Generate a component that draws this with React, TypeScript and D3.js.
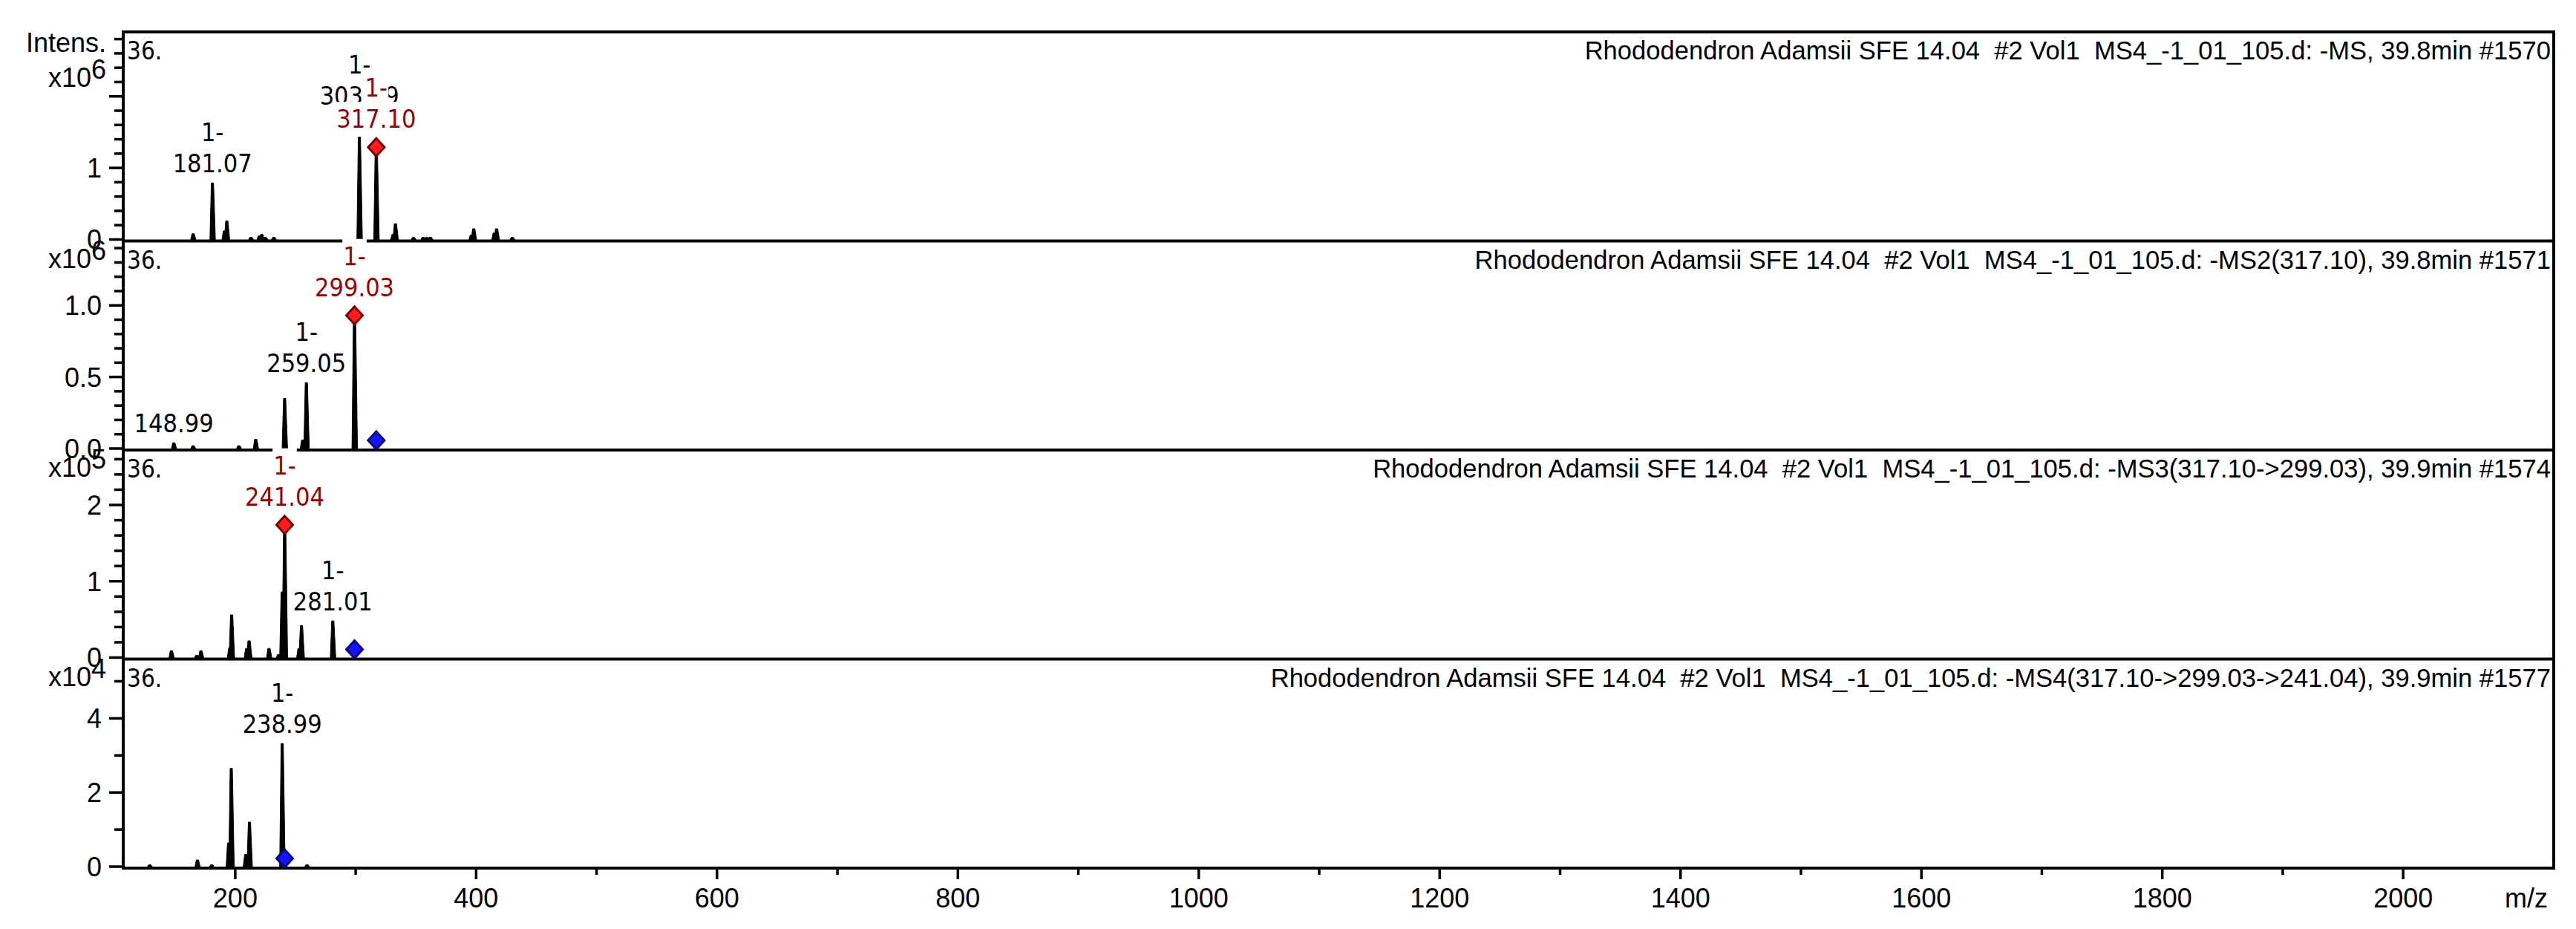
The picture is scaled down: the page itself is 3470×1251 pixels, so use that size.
import * as d3 from 'd3';

// m/z axis
const mzDomain = [107, 2125];
const xTickValues = [200, 400, 600, 800, 1000, 1200, 1400, 1600, 1800, 2000];
const xMinorValues = [300, 500, 700, 900, 1100, 1300, 1500, 1700, 1900];

const titles = [
  'Rhododendron Adamsii SFE 14.04  #2 Vol1  MS4_-1_01_105.d: -MS, 39.8min #1570',
  'Rhododendron Adamsii SFE 14.04  #2 Vol1  MS4_-1_01_105.d: -MS2(317.10), 39.8min #1571',
  'Rhododendron Adamsii SFE 14.04  #2 Vol1  MS4_-1_01_105.d: -MS3(317.10->299.03), 39.9min #1574',
  'Rhododendron Adamsii SFE 14.04  #2 Vol1  MS4_-1_01_105.d: -MS4(317.10->299.03->241.04), 39.9min #1577',
];

const exponents = ['6', '6', '5', '4'];
const yMaxes = [2.9, 1.45, 2.72, 5.6];
const yMajor = [[0, 1, 2], [0, 0.5, 1.0], [0, 1, 2], [0, 2, 4]];
const yLabels = [['0', '1', ''], ['0.0', '0.5', '1.0'], ['0', '1', '2'], ['0', '2', '4']];
const yMinorStep = [0.2, 0.1, 0.2, 1];

// [m/z, intensity in units of 10^exponent]
const ms1Peaks = [
  [165, 0.08], [181.07, 0.79], [191, 0.12], [193, 0.26], [213, 0.03], [220, 0.05], [222, 0.07],
  [225, 0.03], [232, 0.03], [303.09, 1.43], [317.10, 1.29], [331, 0.07], [333, 0.22], [348, 0.03],
  [356, 0.03], [359, 0.03], [362, 0.03], [396, 0.06], [398, 0.15], [415, 0.09], [417, 0.15], [430, 0.03],
];
const ms2Peaks = [
  [148.99, 0.04], [165, 0.02], [203, 0.02], [217, 0.065], [241.0, 0.35], [256, 0.06], [259.05, 0.46], [299.03, 0.93],
];
const ms3Peaks = [
  [147, 0.09], [168, 0.03], [171.5, 0.09], [195.5, 0.13], [197, 0.56], [209.5, 0.12], [211.5, 0.22],
  [228, 0.12], [236, 0.04], [238.99, 0.86], [241.04, 1.74], [253, 0.12], [255, 0.42], [281.01, 0.48],
];
const ms4Peaks = [
  [129, 0.05], [168.6, 0.18], [180.4, 0.05], [194.5, 0.64], [196.7, 2.65], [208.7, 0.33],
  [211.8, 1.2], [238.99, 3.32], [259.6, 0.05],
];
const peaks = [ms1Peaks, ms2Peaks, ms3Peaks, ms4Peaks];

// peak annotations
const ms1Labels = [
  { mz: 181.07, lines: ['1-', '181.07'], red: false },
  { mz: 303.09, lines: ['1-', '303.09'], red: false },
  { mz: 317.10, lines: ['1-', '317.10'], red: true },
];
const ms2Labels = [
  { mz: 148.99, lines: ['148.99'], red: false },
  { mz: 259.05, lines: ['1-', '259.05'], red: false },
  { mz: 299.03, lines: ['1-', '299.03'], red: true },
];
const ms3Labels = [
  { mz: 241.04, lines: ['1-', '241.04'], red: true },
  { mz: 281.01, lines: ['1-', '281.01'], red: false },
];
const ms4Labels = [
  { mz: 238.99, lines: ['1-', '238.99'], red: false },
];
const labels = [ms1Labels, ms2Labels, ms3Labels, ms4Labels];

const selected = [317.10, 299.03, 241.04, null];
const precursors = [null, 317.10, 299.03, 241.04];

// extra lift for labels pushed up to avoid overlap
const labelLift: Record<string, number> = { '303.09': 30 };

const axisFont = '"Liberation Sans", Arial, sans-serif';
const labelFont = '"DejaVu Sans Condensed", "DejaVu Sans", sans-serif';
const redText = '#a00000';

function textWidth(s: string, size: number) {
  let w = 0;
  for (const c of s) w += c === '.' ? 0.286 : c === '-' ? 0.33 : 0.572;
  return w * size;
}

function diamond(cx: number, cy: number, r: number) {
  return `M${cx},${cy - r - 1}L${cx + r},${cy}L${cx},${cy + r + 1}L${cx - r},${cy}Z`;
}

export default function App() {
  const left = 166;
  const right = 3440;
  const top0 = 43;
  const panelH = 281.5;
  const x = d3.scaleLinear().domain(mzDomain).range([left, right]);
  const line = d3.line();
  const lblSize = 34;
  const lineGap = 42;

  const panels = peaks.map((pk, i) => {
    const top = top0 + i * panelH;
    const bottom = top + panelH;
    const y = d3.scaleLinear().domain([0, yMaxes[i]]).range([bottom - 2, top]);
    const minor = d3.range(0, yMaxes[i] + 1e-9, yMinorStep[i])
      .filter(v => !yMajor[i].some(m => Math.abs(m - v) < 1e-6));
    const intensity = (mz: number) => (pk.find(p => Math.abs(p[0] - mz) < 0.01) || [mz, 0])[1];
    return { top, bottom, y, minor, intensity };
  });

  return (
    <svg width={3470} height={1251} style={{ position: 'absolute', left: 0, top: 0, background: '#fff' }}>
      {/* spectra */}
      {panels.map((p, i) => (
        <g key={'pk' + i}>
          {peaks[i].map(([mz, v], j) => {
            const px = x(mz);
            const base = p.y(0) + 1;
            const py = p.y(v);
            return (
              <path key={j}
                d={line([[px - 3.4, base], [px - 1.5, py], [px + 1.5, py], [px + 4, base]]) + 'Z'}
                fill="#000" stroke="#000" strokeWidth={1} />
            );
          })}
        </g>
      ))}

      {/* axes and frame */}
      <g stroke="#000" strokeWidth={4} fill="none">
        <line x1={left} x2={right + 2} y1={top0} y2={top0} />
        <line x1={right} x2={right} y1={top0} y2={panels[3].bottom} />
        <line x1={left} x2={left} y1={top0 - 2} y2={panels[3].bottom + 2} />
        {panels.map((p, i) => (
          <line key={i} x1={left - 2} x2={right + 2} y1={p.bottom} y2={p.bottom} />
        ))}
      </g>
      <g stroke="#000" strokeWidth={3.5}>
        {panels.map((p, i) => (
          <g key={i}>
            {yMajor[i].map(v => (
              <line key={'M' + v} x1={left - 19} x2={left} y1={p.y(v)} y2={p.y(v)} />
            ))}
            {p.minor.map(v => (
              <line key={'m' + v} x1={left - 12} x2={left} y1={p.y(v)} y2={p.y(v)} />
            ))}
          </g>
        ))}
        {xTickValues.map(v => (
          <line key={'x' + v} x1={x(v)} x2={x(v)} y1={panels[3].bottom} y2={panels[3].bottom + 15} />
        ))}
        {xMinorValues.map(v => (
          <line key={'xm' + v} x1={x(v)} x2={x(v)} y1={panels[3].bottom} y2={panels[3].bottom + 9} />
        ))}
      </g>

      {/* precursor / selected markers */}
      {panels.map((p, i) => (
        <g key={'dm' + i}>
          {precursors[i] != null && (
            <path d={diamond(x(precursors[i] as number), p.y(0) - 11, 11)}
              fill="#1414ff" stroke="#0a0a80" strokeWidth={3} />
          )}
          {selected[i] != null && (
            <path d={diamond(x(selected[i] as number), p.y(p.intensity(selected[i] as number)), 11)}
              fill="#ff1c1c" stroke="#7a0000" strokeWidth={3} />
          )}
        </g>
      ))}

      {/* peak labels: black first, red on top with white boxes */}
      {[false, true].map(redPass => panels.map((p, i) => (
        <g key={'lb' + i + redPass}>
          {labels[i].filter(l => l.red === redPass).map(l => {
            const px = x(l.mz);
            const apex = p.y(p.intensity(l.mz));
            const lastBase = apex - (l.red ? 26 : 14) - (labelLift[l.lines[l.lines.length - 1]] || 0);
            const n = l.lines.length;
            return (
              <g key={l.mz}>
                {l.lines.map((s, k) => {
                  const base = lastBase - (n - 1 - k) * lineGap;
                  const w = textWidth(s, lblSize);
                  return (
                    <g key={k}>
                      {l.red && <rect x={px - w / 2 - 1} y={base - 35} width={w + 2} height={lineGap} fill="#fff" />}
                      <text x={px} y={base} textAnchor="middle" fontFamily={labelFont}
                        fontStretch="condensed" fontSize={lblSize} fill={l.red ? redText : '#000'}>{s}</text>
                    </g>
                  );
                })}
              </g>
            );
          })}
        </g>
      )))}

      {/* panel texts */}
      {panels.map((p, i) => (
        <g key={'tx' + i}>
          <text x={3436} y={p.top + 37} textAnchor="end" fontFamily={axisFont} fontSize={34.6}
            style={{ whiteSpace: 'pre' }}>{titles[i]}</text>
          <text x={171} y={p.top + 37} fontFamily={labelFont} fontStretch="condensed" fontSize={33}>36.</text>
          <text x={143} y={p.top + (i === 0 ? 74 : 36)} textAnchor="end" fontFamily={axisFont} fontSize={36}>
            x10<tspan dy={-11}>{exponents[i]}</tspan>
          </text>
          {yMajor[i].map((v, k) => yLabels[i][k] ? (
            <text key={v} x={137} y={p.y(v)} dy="0.36em" textAnchor="end" fontFamily={axisFont} fontSize={36}>
              {yLabels[i][k]}
            </text>
          ) : null)}
        </g>
      ))}
      <text x={143} y={70} textAnchor="end" fontFamily={axisFont} fontSize={36}>Intens.</text>

      {/* m/z tick labels */}
      {xTickValues.map(v => (
        <text key={v} x={x(v)} y={1222} textAnchor="middle" fontFamily={axisFont} fontSize={36}>{v}</text>
      ))}
      <text x={3432} y={1222} textAnchor="end" fontFamily={axisFont} fontSize={36}>m/z</text>
    </svg>
  );
}
